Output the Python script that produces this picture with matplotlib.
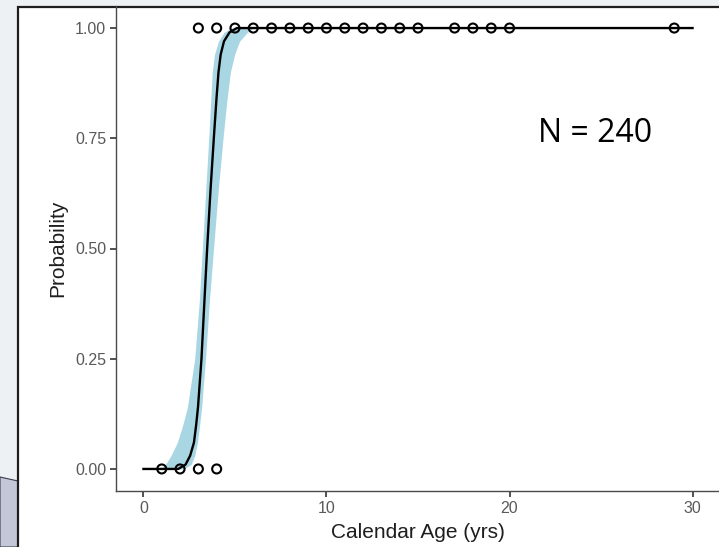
import matplotlib
matplotlib.use('Agg')
import matplotlib.pyplot as plt
from matplotlib.patches import Rectangle, Polygon

# observed outcomes (age in years, 0/1)
ages_pos = [3, 4, 5, 6, 7, 8, 9, 10, 11, 12, 13, 14, 15, 17, 18, 19, 20, 29]
ages_neg = [1, 2, 3, 4]

# fitted probability curve and confidence ribbon
prob    = [0.0, 0.0, 0.01, 0.03, 0.06, 0.10, 0.14, 0.25, 0.38, 0.50, 0.63, 0.76, 0.84, 0.90, 0.94, 0.97, 0.99, 1.0, 1.0]
age_fit = [0.0, 1.9, 2.3, 2.55, 2.76, 2.88, 2.98, 3.17, 3.33, 3.48, 3.66, 3.86, 3.99, 4.1, 4.22, 4.4, 4.7, 5.1, 30.0]
age_lo  = [0.9, 0.9, 1.2, 1.5, 1.85, 2.15, 2.4, 2.8, 3.05, 3.22, 3.4, 3.58, 3.68, 3.76, 3.88, 4.1, 4.4, 4.8, 4.8]
age_hi  = [2.2, 2.2, 2.6, 2.8, 2.95, 3.07, 3.18, 3.39, 3.6, 3.83, 4.08, 4.37, 4.57, 4.75, 4.98, 5.25, 5.67, 6.0, 6.0]

W, H = 719, 547
fig = plt.figure(figsize=(W / 100, H / 100), dpi=100)
fig.patch.set_facecolor('#edf1f4')

# slide backdrop: grey-blue shape bottom left, white card with dark edge
fig.patches.append(Polygon([(0, 0), (18 / W, 0), (18 / W, 1 - 481 / H), (0, 1 - 477 / H)],
                           closed=True, transform=fig.transFigure, zorder=-10,
                           facecolor='#c4c7d7', edgecolor='#3a3d4a', lw=0.8))
fig.patches.append(Rectangle((18 / W, -0.01), 1.0, 1 - 7 / H + 0.01, transform=fig.transFigure,
                             zorder=-10, facecolor='white', edgecolor='#1e1e1e', lw=1.6))

ax = fig.add_axes([116 / W, 56 / H, 604 / W, 485 / H])
ax.set_facecolor('none')

ax.fill_betweenx(prob, age_lo, age_hi, color='#a9d6e3', lw=0, zorder=1)
ax.plot(age_fit, prob, color='black', lw=1.7, zorder=2)
ax.scatter(ages_pos, [1] * len(ages_pos), s=42, facecolors='none', edgecolors='black', linewidths=1.5, zorder=3)
ax.scatter(ages_neg, [0] * len(ages_neg), s=42, facecolors='none', edgecolors='black', linewidths=1.5, zorder=3)

ax.set_xlim(-1.5, 31.5)
ax.set_ylim(-0.05, 1.05)
ax.set_xticks([0, 10, 20, 30])
ax.set_yticks([0, 0.25, 0.5, 0.75, 1.0])
ax.set_yticklabels(['0.00', '0.25', '0.50', '0.75', '1.00'])

for s in ['top', 'right']:
    ax.spines[s].set_visible(False)
for s in ['left', 'bottom']:
    ax.spines[s].set_color('#4a4a4a')
    ax.spines[s].set_linewidth(1.0)
ax.tick_params(colors='#333333', length=4, width=1.2, labelcolor='#595959', labelsize=11.5, pad=3)
for lab in ax.get_xticklabels() + ax.get_yticklabels():
    lab.set_family('Liberation Sans')

ax.set_xlabel('Calendar Age (yrs)', fontsize=15, family='Liberation Sans', color='#1e1e1e', labelpad=5)
ax.set_ylabel('Probability', fontsize=15, family='Liberation Sans', color='#1e1e1e', labelpad=6)

ax.text(24.7, 0.76, 'N = 240', fontsize=23, family='Open Sans', color='black', ha='center', va='center')

fig.savefig('out.png', dpi=100)
